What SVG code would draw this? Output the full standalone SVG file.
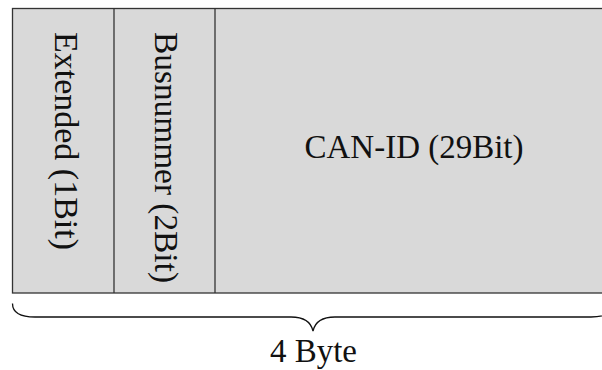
<svg xmlns="http://www.w3.org/2000/svg" width="602" height="370" viewBox="0 0 602 370">
  <style>
    .field { fill: #d9d9d9; stroke: #333333; stroke-width: 1.3; }
    .sep { stroke: #333333; stroke-width: 1.3; fill: none; }
    .lbl { font-family: 'Liberation Serif', 'DejaVu Serif', serif; font-size: 33px; fill: #111111; }
    .brace { fill: none; stroke: #111111; stroke-width: 1.3; }
  </style>
  <rect width="602" height="370" fill="#ffffff"/>

  <!-- frame of the 4-byte word -->
  <g id="frame">
    <rect class="field" x="12.5" y="8.5" width="601" height="284.5"/>
  </g>

  <g id="extended">
    <line class="sep" x1="114" y1="8.5" x2="114" y2="293"/>
    <text class="lbl" transform="translate(55,32) rotate(90)" x="0" y="0" textLength="218" lengthAdjust="spacingAndGlyphs">Extended (1Bit)</text>
  </g>

  <g id="busnummer">
    <line class="sep" x1="215" y1="8.5" x2="215" y2="293"/>
    <text class="lbl" transform="translate(155,32) rotate(90)" x="0" y="0" textLength="251" lengthAdjust="spacingAndGlyphs">Busnummer (2Bit)</text>
  </g>

  <g id="canid">
    <text class="lbl" x="414" y="158" text-anchor="middle" textLength="219" lengthAdjust="spacingAndGlyphs">CAN-ID (29Bit)</text>
  </g>

  <!-- brace under the whole word -->
  <g id="connectors">
    <path class="brace" d="M12.5,303.5 C12.5,312 20,317 35,317 L291,317 C304,317 311,322 313,331 C315,322 322,317 335,317 L591,317 C606,317 613.5,312 613.5,303.5"/>
  </g>

  <g id="size">
    <text class="lbl" x="313.5" y="362" text-anchor="middle" textLength="87" lengthAdjust="spacingAndGlyphs">4 Byte</text>
  </g>
</svg>
